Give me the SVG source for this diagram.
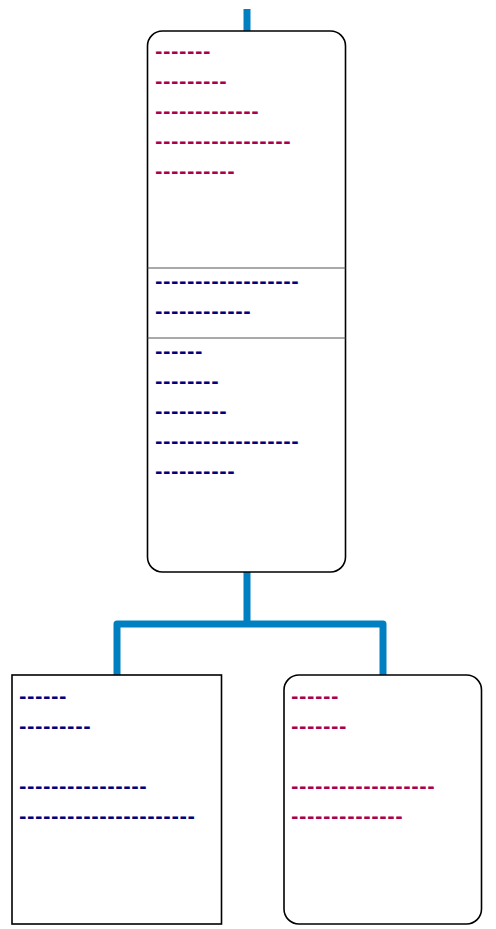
<svg xmlns="http://www.w3.org/2000/svg" width="496" height="929" viewBox="0 0 496 929">
<style>
.box{fill:#fff;stroke:#000;stroke-width:1.6}
.div{stroke:#555;stroke-width:1.2}
.t{font-family:"DejaVu Sans",sans-serif;font-size:18px;font-weight:bold;letter-spacing:0.55px}
.m{fill:#a8004f}
.b{fill:#00007f}
.c{fill:none;stroke:#0080c0;stroke-width:7;stroke-linejoin:round}
</style>
<g id="connectors">
<path class="c" d="M247,9V31"/>
<path class="c" d="M247,572V624M117,675V624H383V675"/>
</g>
<g id="node-top">
<rect class="box" x="147.5" y="31" width="198" height="541" rx="15"/>
<line class="div" x1="147.5" y1="268" x2="345.5" y2="268"/>
<line class="div" x1="147.5" y1="338" x2="345.5" y2="338"/>
<text class="t m" x="155" y="58">-------</text>
<text class="t m" x="155" y="88">---------</text>
<text class="t m" x="155" y="118">-------------</text>
<text class="t m" x="155" y="148">-----------------</text>
<text class="t m" x="155" y="178">----------</text>
<text class="t b" x="155" y="288">------------------</text>
<text class="t b" x="155" y="318">------------</text>
<text class="t b" x="155" y="358">------</text>
<text class="t b" x="155" y="388">--------</text>
<text class="t b" x="155" y="418">---------</text>
<text class="t b" x="155" y="448">------------------</text>
<text class="t b" x="155" y="478">----------</text>
</g>
<g id="node-left">
<rect class="box" x="12" y="675" width="209.5" height="249"/>
<text class="t b" x="19" y="702.5">------</text>
<text class="t b" x="19" y="732.5">---------</text>
<text class="t b" x="19" y="792.5">----------------</text>
<text class="t b" x="19" y="822.5">----------------------</text>
</g>
<g id="node-right">
<rect class="box" x="284" y="675" width="197.5" height="249" rx="15"/>
<text class="t m" x="291" y="702.5">------</text>
<text class="t m" x="291" y="732.5">-------</text>
<text class="t m" x="291" y="792.5">------------------</text>
<text class="t m" x="291" y="822.5">--------------</text>
</g>
</svg>
